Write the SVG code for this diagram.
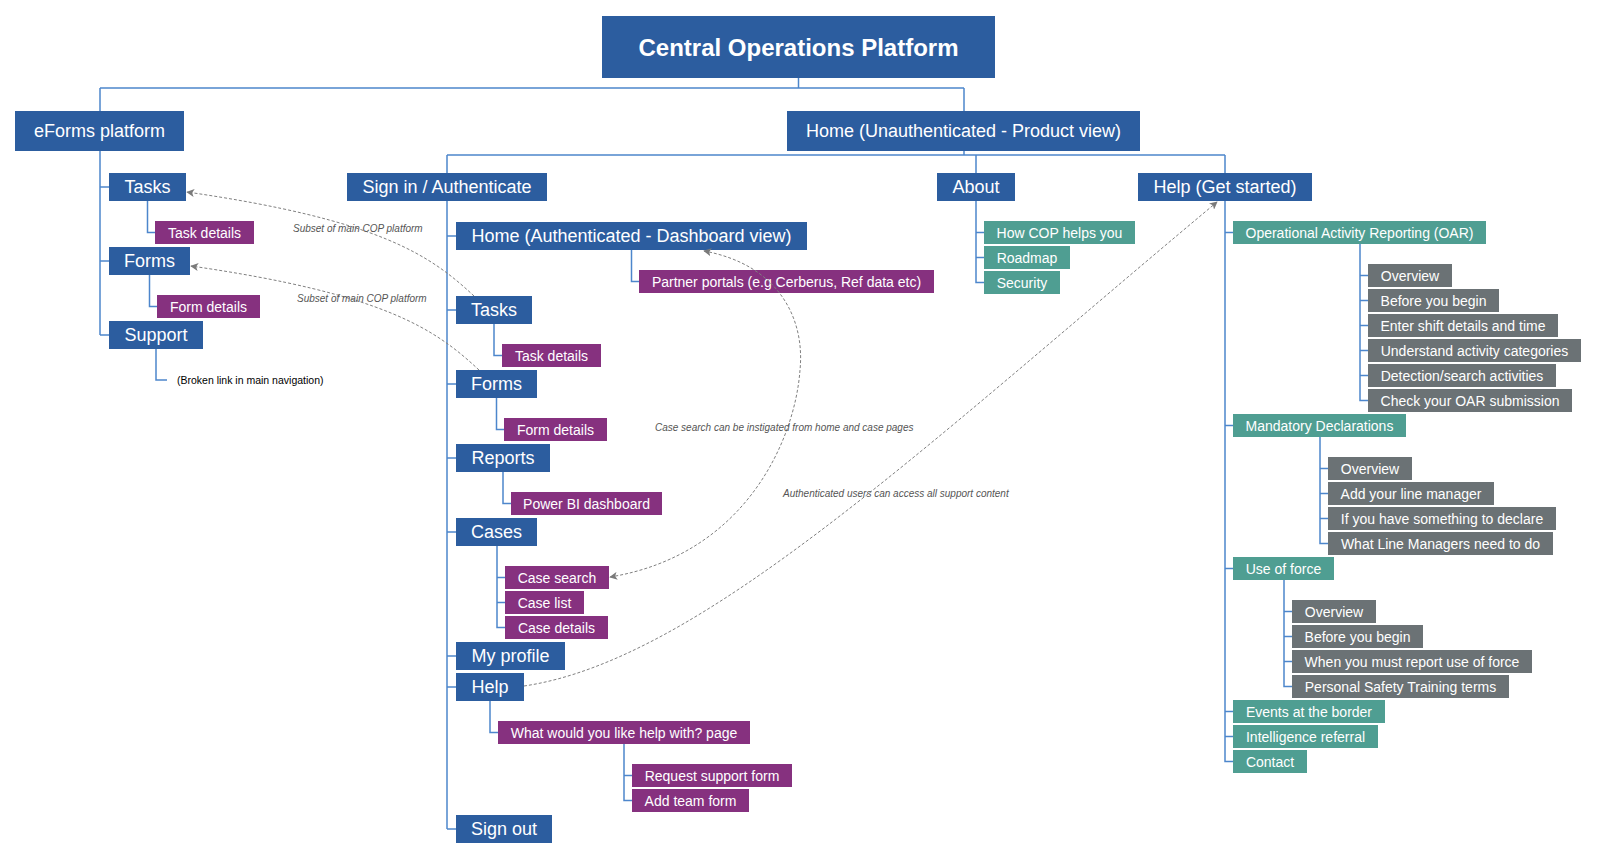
<svg xmlns="http://www.w3.org/2000/svg" width="1597" height="859" viewBox="0 0 1597 859">
<defs>
<marker id="arr" viewBox="0 0 10 10" refX="9" refY="5" markerWidth="8" markerHeight="8" markerUnits="userSpaceOnUse" orient="auto-start-reverse">
<path d="M0,0 L10,5 L0,10 L2.5,5 Z" fill="#7a7a7a"/>
</marker>
</defs>
<style>
rect{stroke:none}
.b{fill:#2c5d9f}
.p{fill:#86317f}
.t{fill:#4f9e92}
.g{fill:#6b7275}
text{font-family:"Liberation Sans",Arial,sans-serif;fill:#fff;text-anchor:middle;dominant-baseline:central}
.xl{font-size:24px;font-weight:bold}
.l{font-size:18px}
.s{font-size:14px}
.lab{font-size:10px;font-style:italic;fill:#555;text-anchor:start}
.note{font-size:10.5px;fill:#000;text-anchor:start}
.tree path{fill:none;stroke:#4d86cc;stroke-width:1.5}
.links path{fill:none;stroke:#808080;stroke-width:1;stroke-dasharray:3 2}
</style>

<g class="tree" id="connectors">
<path d="M798.5,78V88M100,88H964M100,88V111M964,88V111"/>
<path d="M964,151V155M447,155H1225M447,155V173M976,155V173M1225,155V173"/>
<path d="M100,151V335M100,187H109M100,261H109M100,335H109"/>
<path d="M147.5,201V232.5H155"/>
<path d="M149.5,275V306.5H157"/>
<path d="M156,349V380H167"/>
<path d="M447,201V829M447,236H456M447,310H456M447,384H456M447,458H456M447,532H456M447,656H456M447,687H456M447,829H456"/>
<path d="M631.5,250V281.5H639"/>
<path d="M494,324V355.5H502"/>
<path d="M496.5,398V429.5H504"/>
<path d="M503,472V503.5H511"/>
<path d="M497,546V627.5H505M497,577.5H505M497,602.5H505"/>
<path d="M490,701V732.5H498"/>
<path d="M624,744V800.5H632M624,775.5H632"/>
<path d="M976,201V282.5H984M976,232.5H984M976,257.5H984"/>
<path d="M1225,201V761.5H1233M1225,232.5H1233M1225,425.5H1233M1225,568.5H1233M1225,711.5H1233M1225,736.5H1233"/>
<path d="M1360,244V400.5H1368M1360,275.5H1368M1360,300.5H1368M1360,325.5H1368M1360,350.5H1368M1360,375.5H1368"/>
<path d="M1320,437V543.5H1328M1320,468.5H1328M1320,493.5H1328M1320,518.5H1328"/>
<path d="M1284,580V686.5H1292M1284,611.5H1292M1284,636.5H1292M1284,661.5H1292"/>
</g>

<g id="title"><rect class="b" x="602" y="16" width="393" height="62"/><text class="xl" x="798.5" y="47">Central Operations Platform</text></g>
<g id="eforms"><rect class="b" x="15" y="111" width="169" height="40"/><text class="l" x="99.5" y="131">eForms platform</text></g>
<g id="home-unauth"><rect class="b" x="787" y="111" width="353" height="40"/><text class="l" x="963.5" y="131">Home (Unauthenticated - Product view)</text></g>

<g id="ef-tasks"><rect class="b" x="109" y="173" width="77" height="28"/><text class="l" x="147.5" y="187">Tasks</text></g>
<g id="ef-task-details"><rect class="p" x="155" y="221" width="99" height="23"/><text class="s" x="204.5" y="232.5">Task details</text></g>
<g id="ef-forms"><rect class="b" x="109" y="247" width="81" height="28"/><text class="l" x="149.5" y="261">Forms</text></g>
<g id="ef-form-details"><rect class="p" x="157" y="295" width="103" height="23"/><text class="s" x="208.5" y="306.5">Form details</text></g>
<g id="ef-support"><rect class="b" x="109" y="321" width="94" height="28"/><text class="l" x="156" y="335">Support</text></g>
<g id="broken-note"><text class="note" x="177" y="380">(Broken link in main navigation)</text></g>

<g id="signin"><rect class="b" x="347" y="173" width="200" height="28"/><text class="l" x="447" y="187">Sign in / Authenticate</text></g>
<g id="home-auth"><rect class="b" x="456" y="222" width="351" height="28"/><text class="l" x="631.5" y="236">Home (Authenticated - Dashboard view)</text></g>
<g id="partner"><rect class="p" x="639" y="270" width="295" height="23"/><text class="s" x="786.5" y="281.5">Partner portals (e.g Cerberus, Ref data etc)</text></g>
<g id="si-tasks"><rect class="b" x="456" y="296" width="76" height="28"/><text class="l" x="494" y="310">Tasks</text></g>
<g id="si-task-details"><rect class="p" x="502" y="344" width="99" height="23"/><text class="s" x="551.5" y="355.5">Task details</text></g>
<g id="si-forms"><rect class="b" x="456" y="370" width="81" height="28"/><text class="l" x="496.5" y="384">Forms</text></g>
<g id="si-form-details"><rect class="p" x="504" y="418" width="103" height="23"/><text class="s" x="555.5" y="429.5">Form details</text></g>
<g id="reports"><rect class="b" x="456" y="444" width="94" height="28"/><text class="l" x="503" y="458">Reports</text></g>
<g id="powerbi"><rect class="p" x="511" y="492" width="151" height="23"/><text class="s" x="586.5" y="503.5">Power BI dashboard</text></g>
<g id="cases"><rect class="b" x="456" y="518" width="81" height="28"/><text class="l" x="496.5" y="532">Cases</text></g>
<g id="case-search"><rect class="p" x="505" y="566" width="104" height="23"/><text class="s" x="557" y="577.5">Case search</text></g>
<g id="case-list"><rect class="p" x="505" y="591" width="79" height="23"/><text class="s" x="544.5" y="602.5">Case list</text></g>
<g id="case-details"><rect class="p" x="505" y="616" width="103" height="23"/><text class="s" x="556.5" y="627.5">Case details</text></g>
<g id="my-profile"><rect class="b" x="456" y="642" width="109" height="28"/><text class="l" x="510.5" y="656">My profile</text></g>
<g id="help"><rect class="b" x="456" y="673" width="68" height="28"/><text class="l" x="490" y="687">Help</text></g>
<g id="what-help"><rect class="p" x="498" y="721" width="252" height="23"/><text class="s" x="624" y="732.5">What would you like help with? page</text></g>
<g id="request-support"><rect class="p" x="632" y="764" width="160" height="23"/><text class="s" x="712" y="775.5">Request support form</text></g>
<g id="add-team"><rect class="p" x="632" y="789" width="117" height="23"/><text class="s" x="690.5" y="800.5">Add team form</text></g>
<g id="sign-out"><rect class="b" x="456" y="815" width="96" height="28"/><text class="l" x="504" y="829">Sign out</text></g>

<g id="about"><rect class="b" x="937" y="173" width="78" height="28"/><text class="l" x="976" y="187">About</text></g>
<g id="how-cop"><rect class="t" x="984" y="221" width="151" height="23"/><text class="s" x="1059.5" y="232.5">How COP helps you</text></g>
<g id="roadmap"><rect class="t" x="984" y="246" width="86" height="23"/><text class="s" x="1027" y="257.5">Roadmap</text></g>
<g id="security"><rect class="t" x="984" y="271" width="76" height="23"/><text class="s" x="1022" y="282.5">Security</text></g>

<g id="help-start"><rect class="b" x="1138" y="173" width="174" height="28"/><text class="l" x="1225" y="187">Help (Get started)</text></g>
<g id="oar"><rect class="t" x="1233" y="221" width="253" height="23"/><text class="s" x="1359.5" y="232.5">Operational Activity Reporting (OAR)</text></g>
<g id="oar-overview"><rect class="g" x="1368" y="264" width="84" height="23"/><text class="s" x="1410" y="275.5">Overview</text></g>
<g id="oar-before"><rect class="g" x="1368" y="289" width="131" height="23"/><text class="s" x="1433.5" y="300.5">Before you begin</text></g>
<g id="oar-enter"><rect class="g" x="1368" y="314" width="190" height="23"/><text class="s" x="1463" y="325.5">Enter shift details and time</text></g>
<g id="oar-understand"><rect class="g" x="1368" y="339" width="213" height="23"/><text class="s" x="1474.5" y="350.5">Understand activity categories</text></g>
<g id="oar-detection"><rect class="g" x="1368" y="364" width="188" height="23"/><text class="s" x="1462" y="375.5">Detection/search activities</text></g>
<g id="oar-check"><rect class="g" x="1368" y="389" width="204" height="23"/><text class="s" x="1470" y="400.5">Check your OAR submission</text></g>
<g id="md"><rect class="t" x="1233" y="414" width="173" height="23"/><text class="s" x="1319.5" y="425.5">Mandatory Declarations</text></g>
<g id="md-overview"><rect class="g" x="1328" y="457" width="84" height="23"/><text class="s" x="1370" y="468.5">Overview</text></g>
<g id="md-add"><rect class="g" x="1328" y="482" width="166" height="23"/><text class="s" x="1411" y="493.5">Add your line manager</text></g>
<g id="md-if"><rect class="g" x="1328" y="507" width="228" height="23"/><text class="s" x="1442" y="518.5">If you have something to declare</text></g>
<g id="md-what"><rect class="g" x="1328" y="532" width="225" height="23"/><text class="s" x="1440.5" y="543.5">What Line Managers need to do</text></g>
<g id="uof"><rect class="t" x="1233" y="557" width="101" height="23"/><text class="s" x="1283.5" y="568.5">Use of force</text></g>
<g id="uof-overview"><rect class="g" x="1292" y="600" width="84" height="23"/><text class="s" x="1334" y="611.5">Overview</text></g>
<g id="uof-before"><rect class="g" x="1292" y="625" width="131" height="23"/><text class="s" x="1357.5" y="636.5">Before you begin</text></g>
<g id="uof-when"><rect class="g" x="1292" y="650" width="240" height="23"/><text class="s" x="1412" y="661.5">When you must report use of force</text></g>
<g id="uof-pst"><rect class="g" x="1292" y="675" width="217" height="23"/><text class="s" x="1400.5" y="686.5">Personal Safety Training terms</text></g>
<g id="events"><rect class="t" x="1233" y="700" width="152" height="23"/><text class="s" x="1309" y="711.5">Events at the border</text></g>
<g id="intel"><rect class="t" x="1233" y="725" width="145" height="23"/><text class="s" x="1305.5" y="736.5">Intelligence referral</text></g>
<g id="contact"><rect class="t" x="1233" y="750" width="74" height="23"/><text class="s" x="1270" y="761.5">Contact</text></g>

<g class="links" id="cross-links">
<path d="M474,296C430,255 380,220 187,192" marker-end="url(#arr)"/>
<path d="M479,370C435,329 385,294 191,266" marker-end="url(#arr)"/>
<path d="M704,251C780,265 805,320 800,370C795,440 745,555 610,577" marker-start="url(#arr)" marker-end="url(#arr)"/>
<path d="M524,686C700,660 920,450 1217,202" marker-end="url(#arr)"/>
</g>
<g id="link-labels">
<text class="lab" x="293" y="228">Subset of main COP platform</text>
<text class="lab" x="297" y="298">Subset of main COP platform</text>
<text class="lab" x="655" y="427">Case search can be instigated from home and case pages</text>
<text class="lab" x="783" y="493">Authenticated users can access all support content</text>
</g>
</svg>
